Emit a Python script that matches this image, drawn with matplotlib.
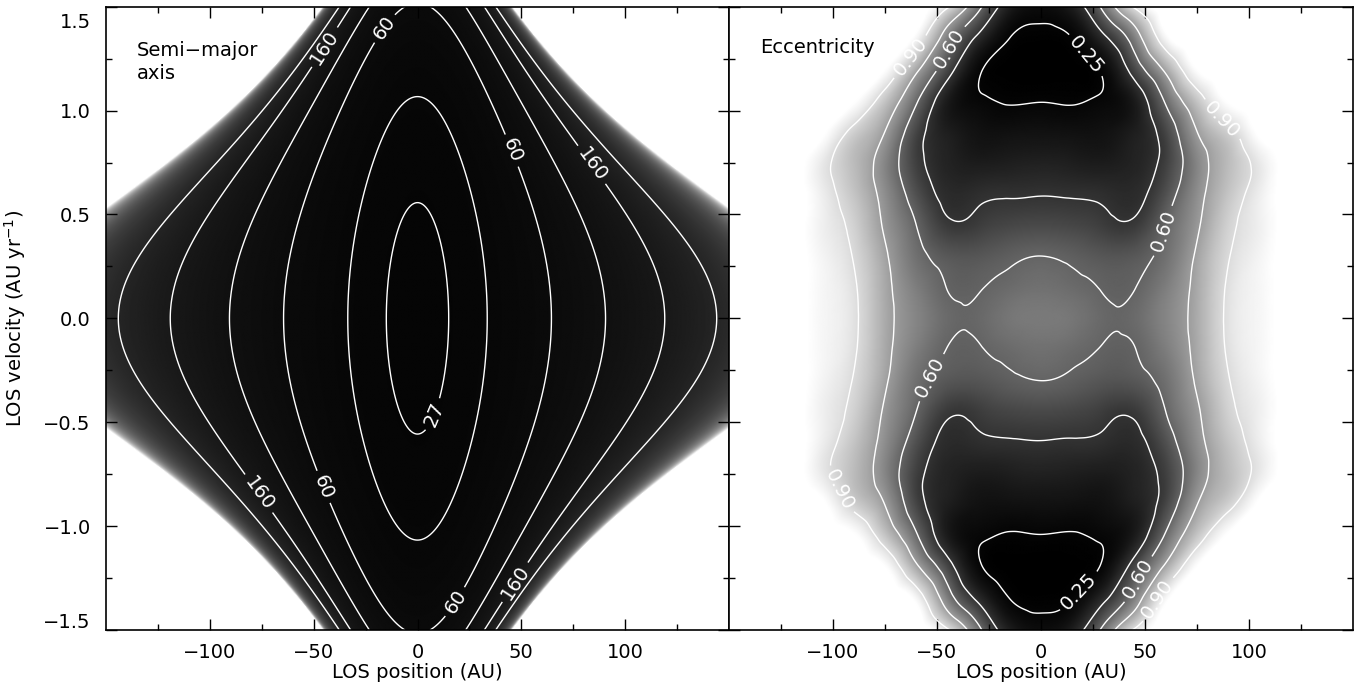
import numpy as np
import matplotlib
matplotlib.use("Agg")
import matplotlib.pyplot as plt
import matplotlib.tri as mtri
from matplotlib.colors import PowerNorm
from matplotlib.transforms import ScaledTranslation

plt.rcParams['font.family'] = ['DejaVu Sans']
plt.rcParams['mathtext.default'] = 'regular'

# companion set-up
star_mass = 2.48      # M_sun
proj_sep = 40.1       # AU, projected separation
sky_speed = 0.973     # AU/yr, plane-of-sky speed

a_labelled = [27, 60, 160]
a_plain = [35, 95, 270]

# eccentricity (upper right quadrant, map is mirror symmetric)
e_pos = [0, 15, 30, 45, 60, 75, 90, 105, 120, 135, 150]
e_vel = [0.0, 0.15, 0.30, 0.45, 0.60, 0.75, 0.90, 1.05, 1.20, 1.35, 1.50]
e_table = [
    [0.660, 0.650, 0.612, 0.618, 0.690, 0.785, 0.915, 0.960, 1.0, 1.0, 1.0],
    [0.635, 0.620, 0.595, 0.598, 0.670, 0.780, 0.910, 0.960, 1.0, 1.0, 1.0],
    [0.600, 0.585, 0.560, 0.565, 0.635, 0.765, 0.895, 0.955, 1.0, 1.0, 1.0],
    [0.520, 0.510, 0.480, 0.470, 0.600, 0.735, 0.875, 0.945, 1.0, 1.0, 1.0],
    [0.445, 0.440, 0.430, 0.420, 0.540, 0.710, 0.845, 0.940, 1.0, 1.0, 1.0],
    [0.380, 0.370, 0.360, 0.390, 0.490, 0.690, 0.825, 0.930, 1.0, 1.0, 1.0],
    [0.315, 0.310, 0.315, 0.370, 0.510, 0.750, 0.875, 0.990, 1.0, 1.0, 1.0],
    [0.245, 0.240, 0.265, 0.360, 0.620, 0.850, 0.985, 1.000, 1.0, 1.0, 1.0],
    [0.200, 0.210, 0.270, 0.515, 0.780, 0.980, 1.000, 1.000, 1.0, 1.0, 1.0],
    [0.220, 0.250, 0.420, 0.675, 0.960, 1.000, 1.000, 1.000, 1.0, 1.0, 1.0],
    [0.290, 0.370, 0.635, 0.915, 1.000, 1.000, 1.000, 1.000, 1.0, 1.0, 1.0],
]
e_labelled = [0.25, 0.60, 0.90]
e_plain = [0.45, 0.75]

pos_ticks = [-100, -50, 0, 50, 100]
pos_minor = [-125, -75, -25, 25, 75, 125]
vel_ticks = [-1.5, -1.0, -0.5, 0.0, 0.5, 1.0, 1.5]
vel_minor = [-1.25, -0.75, -0.25, 0.25, 0.75, 1.25]

# where the contour labels sit (data coords)
a_label_spots = [(-18, 1.41), (-47, 1.32), (46, 0.81), (84, 0.74), (7, -0.46),
                 (19, -1.37), (47, -1.27), (-76, -0.84), (-45, -0.81)]
e_label_spots = [(-63, 1.26), (-42, 1.29), (19, 1.24), (88, 0.97), (59, 0.42),
                 (-52, -0.29), (-95, -0.82), (17, -1.30), (44, -1.24), (54, -1.34)]

z = np.linspace(-150, 150, 601)
vz = np.linspace(-1.5, 1.5, 601)
Z, V = np.meshgrid(z, vz)

# semi-major axis (vis-viva)
gm = 4 * np.pi ** 2 * star_mass
inv_a = 2 / np.sqrt(proj_sep ** 2 + Z ** 2) - (sky_speed ** 2 + V ** 2) / gm
semi = np.where(inv_a > 0, 1 / np.clip(inv_a, 1e-9, None), 1e9)

# eccentricity: mirror the quadrant, smooth with matplotlib's cubic tri interpolator
ep = np.array(e_pos, float)
ev = np.array(e_vel, float)
et = np.array(e_table, float)
zs = np.concatenate([-ep[:0:-1], ep])
vs = np.concatenate([-ev[:0:-1], ev])
full = np.concatenate([et[:0:-1], et], axis=0)
full = np.concatenate([full[:, :0:-1], full], axis=1)
ZS, VS = np.meshgrid(zs, vs * 100)
nv, nz = full.shape
idx = np.arange(nv * nz).reshape(nv, nz)
c0, c1 = idx[:-1, :-1].ravel(), idx[:-1, 1:].ravel()
c2, c3 = idx[1:, 1:].ravel(), idx[1:, :-1].ravel()
tris = np.concatenate([np.column_stack([c0, c1, c2]), np.column_stack([c0, c2, c3])])
tri = mtri.Triangulation(ZS.ravel(), VS.ravel(), tris)
ecc = mtri.CubicTriInterpolator(tri, full.ravel(), kind='min_E')(Z, V * 100)
ecc = np.ma.filled(ecc, 1.0)

fig = plt.figure(figsize=(13.58, 6.98), dpi=100)
ax1 = fig.add_axes([106 / 1358, 68 / 698, 623 / 1358, 623.3 / 698])
ax2 = fig.add_axes([729 / 1358, 68 / 698, 624 / 1358, 623.3 / 698])

ext = [-150, 150, -1.5, 1.5]
ax1.imshow(semi, extent=ext, origin='lower', aspect='auto', cmap='gray',
           norm=PowerNorm(0.8, vmin=0, vmax=3000), interpolation='bilinear')
ax1.contour(Z, V, semi, levels=a_plain, colors='white', linewidths=1.0)
cs1 = ax1.contour(Z, V, semi, levels=a_labelled, colors='white', linewidths=1.0)
ax1.clabel(cs1, fmt='%d', fontsize=14, inline=True, manual=a_label_spots)

ax2.imshow(ecc, extent=ext, origin='lower', aspect='auto', cmap='gray',
           norm=PowerNorm(1.4, vmin=0.2, vmax=0.98), interpolation='bilinear')
ax2.contour(Z, V, ecc, levels=e_plain, colors='white', linewidths=1.0)
cs2 = ax2.contour(Z, V, ecc, levels=e_labelled, colors='white', linewidths=1.0)
ax2.clabel(cs2, fmt='%.2f', fontsize=14, inline=True, manual=e_label_spots)

for ax in (ax1, ax2):
    ax.set_xlim(-150, 150)
    ax.set_ylim(-1.5, 1.5)
    ax.set_xticks(pos_ticks)
    ax.set_xticks(pos_minor, minor=True)
    ax.set_yticks(vel_ticks)
    ax.set_yticks(vel_minor, minor=True)
    ax.tick_params(which='both', direction='in', top=True, right=True,
                   width=1.0, labelsize=14)
    ax.tick_params(which='major', length=8, pad=9)
    ax.tick_params(which='minor', length=4)
    ax.set_xlabel('LOS position (AU)', fontsize=14, labelpad=1)
    for s in ax.spines.values():
        s.set_linewidth(1.2)

ax2.tick_params(labelleft=False)
ax1.tick_params(axis='y', which='major', pad=11)
ax1.set_ylabel('LOS velocity (AU yr$^{-1}$)', fontsize=14, labelpad=11)

ylabels = ax1.get_yticklabels()
ylabels[-1].set_transform(ylabels[-1].get_transform()
                          + ScaledTranslation(0, -0.14, fig.dpi_scale_trans))
ylabels[0].set_transform(ylabels[0].get_transform()
                         + ScaledTranslation(0, 0.10, fig.dpi_scale_trans))

ax1.text(0.05, 0.945, 'Semi\u2212major\naxis', transform=ax1.transAxes,
         ha='left', va='top', fontsize=14, linespacing=1.25)
ax2.text(0.05, 0.95, 'Eccentricity', transform=ax2.transAxes,
         ha='left', va='top', fontsize=14)

fig.savefig('out.png', dpi=100)
